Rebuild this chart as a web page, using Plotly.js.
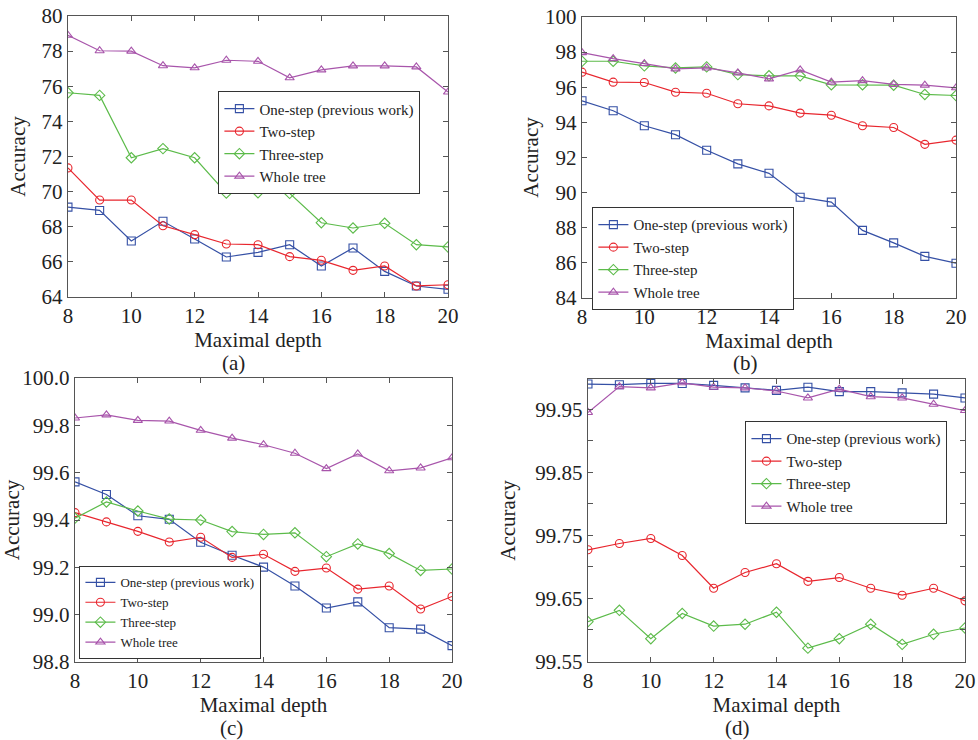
<!DOCTYPE html>
<html>
<head>
<meta charset="utf-8">
<script src="https://cdn.plot.ly/plotly-3.0.1.min.js"></script>
<style>html,body{margin:0;padding:0;background:#fff;}#chart{width:978px;height:740px;}</style>
</head>
<body>
<div id="chart"></div>
<script>
// Shared x values: maximal depth
const depth = [8, 9, 10, 11, 12, 13, 14, 15, 16, 17, 18, 19, 20];
const seriesNames = ["One-step (previous work)", "Two-step", "Three-step", "Whole tree"];

// Panel (a)
const a_one   = [69.12, 68.93, 67.19, 68.31, 67.30, 66.28, 66.54, 66.98, 65.77, 66.79, 65.46, 64.63, 64.44];
const a_two   = [71.35, 69.52, 69.52, 68.06, 67.55, 67.02, 66.98, 66.30, 66.09, 65.52, 65.77, 64.63, 64.70];
const a_three = [75.63, 75.48, 71.93, 72.45, 71.93, 69.92, 69.94, 69.90, 68.23, 67.93, 68.20, 66.98, 66.85];
const a_whole = [78.90, 78.02, 78.00, 77.17, 77.05, 77.48, 77.42, 76.48, 76.93, 77.16, 77.16, 77.10, 75.67];

// Panel (b)
const b_one   = [95.23, 94.66, 93.81, 93.30, 92.41, 91.64, 91.10, 89.74, 89.46, 87.85, 87.14, 86.37, 85.98];
const b_two   = [96.86, 96.29, 96.27, 95.72, 95.66, 95.06, 94.94, 94.53, 94.41, 93.81, 93.71, 92.75, 92.99];
const b_three = [97.48, 97.48, 97.22, 97.10, 97.16, 96.72, 96.65, 96.65, 96.14, 96.14, 96.12, 95.59, 95.53];
const b_whole = [97.97, 97.63, 97.35, 97.05, 97.10, 96.82, 96.48, 96.99, 96.29, 96.38, 96.16, 96.12, 95.97];

// Panel (c)
const c_one   = [99.561, 99.508, 99.418, 99.403, 99.306, 99.251, 99.201, 99.121, 99.028, 99.054, 98.945, 98.939, 98.869];
const c_two   = [99.431, 99.392, 99.352, 99.307, 99.327, 99.242, 99.255, 99.183, 99.197, 99.108, 99.121, 99.024, 99.077];
const c_three = [99.408, 99.476, 99.438, 99.404, 99.400, 99.351, 99.339, 99.346, 99.245, 99.299, 99.258, 99.187, 99.193];
const c_whole = [99.831, 99.844, 99.821, 99.818, 99.779, 99.746, 99.718, 99.682, 99.617, 99.679, 99.608, 99.620, 99.663];

// Panel (d)
const d_one   = [99.990, 99.989, 99.991, 99.991, 99.988, 99.984, 99.980, 99.985, 99.978, 99.978, 99.976, 99.974, 99.968];
const d_two   = [99.727, 99.737, 99.745, 99.718, 99.666, 99.691, 99.705, 99.677, 99.683, 99.666, 99.655, 99.666, 99.646];
const d_three = [99.613, 99.631, 99.586, 99.626, 99.606, 99.609, 99.628, 99.571, 99.586, 99.609, 99.577, 99.593, 99.603];
const d_whole = [99.945, 99.986, 99.984, 99.992, 99.985, 99.984, 99.979, 99.968, 99.982, 99.970, 99.968, 99.958, 99.948];

const colors = ["#3550a5", "#e8262e", "#5cbb4a", "#a855ab"];
const symbols = ["square-open", "circle-open", "diamond-open", "triangle-up-open"];

const panels = [
  {data: [a_one, a_two, a_three, a_whole], xa: "x",  ya: "y",  legend: "legend"},
  {data: [b_one, b_two, b_three, b_whole], xa: "x2", ya: "y2", legend: "legend2"},
  {data: [c_one, c_two, c_three, c_whole], xa: "x3", ya: "y3", legend: "legend3"},
  {data: [d_one, d_two, d_three, d_whole], xa: "x4", ya: "y4", legend: "legend4"}
];

const traces = [];
panels.forEach(p => {
  p.data.forEach((vals, i) => {
    traces.push({
      x: depth, y: vals, name: seriesNames[i], type: "scatter", mode: "lines+markers",
      xaxis: p.xa, yaxis: p.ya, legend: p.legend,
      line: {color: colors[i], width: 1.2},
      marker: {symbol: symbols[i], size: 8, color: colors[i], line: {width: 1.1, color: colors[i]}}
    });
  });
});

const FONT = "'Liberation Serif', 'DejaVu Serif', serif";
const axisColor = "#555";

function xax(domain, anchor) {
  return {
    domain: domain, anchor: anchor, range: [8, 20], tickvals: [8, 10, 12, 14, 16, 18, 20],
    showgrid: false, zeroline: false, showline: true, linecolor: axisColor, linewidth: 1.2,
    mirror: "ticks", ticks: "inside", ticklen: 5, tickcolor: axisColor, tickwidth: 1,
    tickfont: {family: FONT, size: 21, color: "#222"},
    title: {text: "Maximal depth", font: {family: FONT, size: 21, color: "#222"}, standoff: 0}
  };
}
function yax(domain, anchor, range, dtick, fmt, tick0, standoff) {
  return {
    domain: domain, anchor: anchor, range: range, dtick: dtick, tick0: tick0,
    tickformat: fmt,
    showgrid: false, zeroline: false, showline: true, linecolor: axisColor, linewidth: 1.2,
    mirror: "ticks", ticks: "inside", ticklen: 5, tickcolor: axisColor, tickwidth: 1,
    tickfont: {family: FONT, size: 21, color: "#222"},
    title: {text: "Accuracy", font: {family: FONT, size: 21, color: "#222"}, standoff: standoff}
  };
}

function legendAt(x, y, size, yanchor) {
  return {
    x: x, y: y, xanchor: "left", yanchor: yanchor || "top", xref: "paper", yref: "paper",
    bgcolor: "#fff", bordercolor: "#333", borderwidth: 1.4,
    font: {family: FONT, size: size, color: "#222"}, itemwidth: 30, tracegroupgap: 0
  };
}

const yd = yax([0.1054, 0.4878], "x4", [99.549, 99.998], 0.1, ".2f", 99.55, 14);
yd.minor = {dtick: 0.05, tick0: 99.55, ticks: "inside", ticklen: 5, tickcolor: axisColor, showgrid: false};

const layout = {
  width: 978, height: 740,
  margin: {l: 0, r: 0, t: 0, b: 0},
  paper_bgcolor: "#fff", plot_bgcolor: "#fff",
  font: {family: FONT, color: "#222"},
  showlegend: true,
  xaxis:  xax([0.0695, 0.4581], "y"),
  yaxis:  yax([0.5986, 0.9784], "x", [64, 80], 2, "d", 64, 10),
  xaxis2: xax([0.5951, 0.9775], "y2"),
  yaxis2: yax([0.5973, 0.9770], "x2", [84, 100], 2, "d", 84, 0),
  xaxis3: xax([0.0767, 0.4622], "y3"),
  yaxis3: yax([0.1054, 0.4892], "x3", [98.8, 100.0], 0.2, ".1f", 98.8, 4),
  xaxis4: xax([0.6012, 0.9867], "y4"),
  yaxis4: yd,
  legend:  legendAt(0.2229, 0.877, 15),
  legend2: legendAt(0.6053, 0.7203, 15),
  legend3: legendAt(0.0808, 1 - 659 / 740, 13, "bottom"),
  legend4: legendAt(0.7618, 0.4311, 15),
  annotations: [
    {text: "(a)", x: 233, y: 363},
    {text: "(b)", x: 745, y: 363},
    {text: "(c)", x: 231, y: 728},
    {text: "(d)", x: 737, y: 728}
  ].map(a => ({
    text: a.text, xref: "paper", yref: "paper", x: a.x / 978, y: 1 - a.y / 740,
    xanchor: "center", yanchor: "middle", showarrow: false,
    font: {family: FONT, size: 21, color: "#222"}
  }))
};

Plotly.newPlot("chart", traces, layout, {staticPlot: true, displayModeBar: false});
</script>
</body>
</html>
